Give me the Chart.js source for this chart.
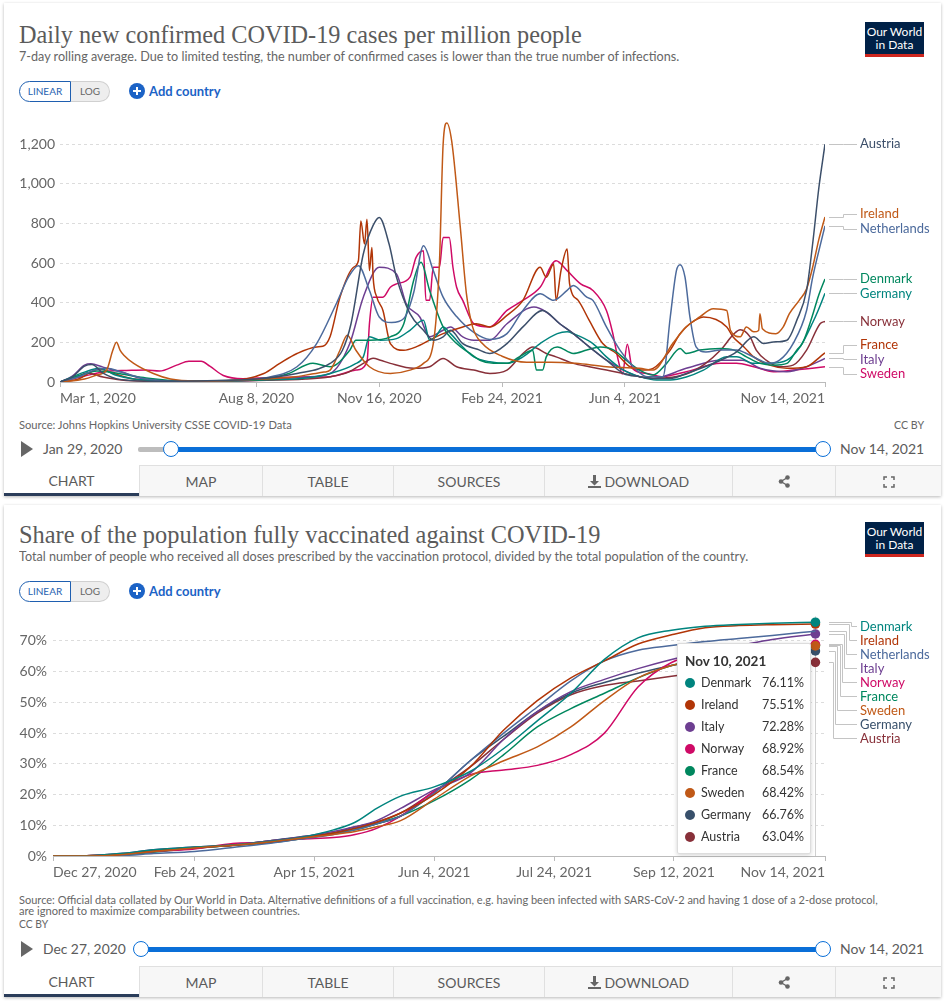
<!DOCTYPE html>
<html>
<head>
<meta charset="utf-8">
<script src="https://cdn.jsdelivr.net/npm/chart.js@4.4.0/dist/chart.umd.min.js"></script>
<style>
  body { margin: 0; background: #fff; font-family: Lato, "Noto Sans", sans-serif; }
  #page { position: relative; width: 946px; height: 1002px; overflow: hidden; }
  .panel { position: absolute; left: 4px; width: 937px; background: #fff; box-shadow: 0 1px 3px rgba(0,0,0,0.28); }
  .t { position: absolute; white-space: nowrap; line-height: 1; transform-origin: 0 50%; }
  .title { font-family: "Liberation Serif", serif; font-size: 25px; color: #5b5b5b; }
  .sub { font-size: 13px; color: #666; }
  .src { font-size: 11px; color: #666; }
  .date { font-size: 14px; color: #5b5b5b; }
  .logo { position: absolute; width: 59px; height: 35px; box-sizing: border-box; background: #002147; color: #fff;
          border-bottom: 3px solid #ce261e; font-size: 12px; line-height: 13px; text-align: center; padding-top: 3px; }
  .toggle { position: absolute; height: 21px; width: 91px; }
  .toggle .lin { position: absolute; left: 0; top: 0; width: 52px; height: 21px; box-sizing: border-box; border: 1.5px solid #1f5fb0;
                 border-radius: 11px 0 0 11px; color: #1f5fb0; font-size: 10px; line-height: 18px; text-align: center; background: #fff; }
  .toggle .log { position: absolute; left: 52px; top: 0; width: 39px; height: 21px; box-sizing: border-box; border: 1px solid #d0d0d0; border-left: none;
                 border-radius: 0 11px 11px 0; color: #666; font-size: 10px; line-height: 19px; text-align: center; background: #eee; }
  .add { position: absolute; height: 18px; color: #1c63c6; font-size: 13px; font-weight: bold; line-height: 18px; }
  .add .plus { position: absolute; left: 0; top: 1px; width: 16px; height: 16px; border-radius: 50%; background: #1c63c6; }
  .add .plus:before { content: ""; position: absolute; left: 4px; top: 7px; width: 8px; height: 2px; background: #fff; }
  .add .plus:after { content: ""; position: absolute; left: 7px; top: 4px; width: 2px; height: 8px; background: #fff; }
  .add span.lbl { position: absolute; left: 20px; top: 0; white-space: nowrap; }
  .play { position: absolute; width: 0; height: 0; border-left: 12px solid #666; border-top: 8px solid transparent; border-bottom: 8px solid transparent; }
  .track { position: absolute; height: 5px; border-radius: 2px; }
  .knob { position: absolute; width: 16px; height: 16px; box-sizing: border-box; border-radius: 50%; border: 1.5px solid #0a6fd8; background: #fff; }
  .tab { position: absolute; height: 31px; box-sizing: border-box; background: #f7f7f7; border-top: 1px solid #e0e0e0; border-left: 1px solid #e0e0e0;
         font-size: 14px; color: #5b5b5b; text-align: center; line-height: 31px; }
  .tab.sel { background: #fff; border-top: none; border-left: none; border-bottom: 3px solid #2b3d5a; line-height: 31px; }
  .tab svg { vertical-align: -1px; }
  .chartbox { position: absolute; left: 0; width: 946px; }
  #tip { position: absolute; left: 677px; top: 643px; width: 134px; height: 211px; box-sizing: border-box; background: #fff;
         border: 1px solid #ddd; box-shadow: 0 1px 4px rgba(0,0,0,0.18); border-radius: 2px; font-size: 12.5px; color: #333; }
  #tip .tt { position: absolute; left: 7px; top: 9px; font-weight: bold; font-size: 13.5px; }
  #tip .tr { position: absolute; left: 0; width: 134px; height: 16px; line-height: 16px; }
  #tip .dot { position: absolute; left: 7px; top: 3px; width: 10px; height: 10px; border-radius: 50%; }
  #tip .nm { position: absolute; left: 23px; }
  #tip .vl { position: absolute; right: 8px; }
</style>
</head>
<body>
<div id="page">
  <div class="panel" style="top:3px;height:493px"></div>
  <div class="panel" style="top:505px;height:492px"></div>

  <!-- panel 1 -->
  <div class="t title" style="left:19px;top:22px" data-w="563">Daily new confirmed COVID-19 cases per million people</div>
  <div class="t sub" style="left:19px;top:50px" data-w="660">7-day rolling average. Due to limited testing, the number of confirmed cases is lower than the true number of infections.</div>
  <div class="logo" style="left:865px;top:22px">Our World<br>in Data</div>
  <div class="toggle" style="left:19px;top:81px"><div class="lin">LINEAR</div><div class="log">LOG</div></div>
  <div class="add" style="left:129px;top:82px"><div class="plus"></div><span class="lbl">Add country</span></div>
  <div class="chartbox" style="top:107px;height:303px"><canvas id="c1"></canvas></div>
  <div class="t src" style="left:19px;top:419px" data-w="273">Source: Johns Hopkins University CSSE COVID-19 Data</div>
  <div class="t src" style="left:894px;top:419px" data-w="30">CC BY</div>
  <div class="play" style="left:21px;top:441px"></div>
  <div class="t date" style="left:43px;top:442px" data-w="79">Jan 29, 2020</div>
  <div class="track" style="left:138px;top:447px;width:36px;background:#bdbdbd"></div>
  <div class="track" style="left:171px;top:447px;width:652px;background:#0a6fd8"></div>
  <div class="knob" style="left:163px;top:441px"></div>
  <div class="knob" style="left:815px;top:441px"></div>
  <div class="t date" style="left:840px;top:442px" data-w="84">Nov 14, 2021</div>
  <div class="tab sel" style="left:4px;top:465px;width:135px">CHART</div>
  <div class="tab" style="left:139px;top:465px;width:123px">MAP</div>
  <div class="tab" style="left:262px;top:465px;width:131px">TABLE</div>
  <div class="tab" style="left:393px;top:465px;width:151px">SOURCES</div>
  <div class="tab" style="left:544px;top:465px;width:188px"><svg width="13" height="13" viewBox="0 0 13 13"><path d="M5 0h3v6h3L6.5 10.5 2 6h3z" fill="#666"/><rect x="0" y="11" width="13" height="2" fill="#666"/></svg> DOWNLOAD</div>
  <div class="tab" style="left:732px;top:465px;width:103px"><svg width="12" height="13" viewBox="0 0 12 13"><circle cx="9.5" cy="2.5" r="2.3" fill="#666"/><circle cx="3" cy="6.5" r="2.3" fill="#666"/><circle cx="9.5" cy="10.5" r="2.3" fill="#666"/><path d="M9.5 2.5L3 6.5l6.5 4" stroke="#666" stroke-width="1.4" fill="none"/></svg></div>
  <div class="tab" style="left:835px;top:465px;width:106px"><svg width="12" height="12" viewBox="0 0 12 12" fill="none" stroke="#666" stroke-width="1.5"><path d="M1 4V1h3M8 1h3v3M11 8v3H8M4 11H1V8"/></svg></div>

  <!-- panel 2 -->
  <div class="t title" style="left:19px;top:522px" data-w="581">Share of the population fully vaccinated against COVID-19</div>
  <div class="t sub" style="left:19px;top:550px" data-w="729">Total number of people who received all doses prescribed by the vaccination protocol, divided by the total population of the country.</div>
  <div class="logo" style="left:865px;top:522px">Our World<br>in Data</div>
  <div class="toggle" style="left:19px;top:581px"><div class="lin">LINEAR</div><div class="log">LOG</div></div>
  <div class="add" style="left:129px;top:582px"><div class="plus"></div><span class="lbl">Add country</span></div>
  <div class="chartbox" style="top:602px;height:280px"><canvas id="c2"></canvas></div>
  <div id="tip"></div>
  <div class="t src" style="left:19px;top:894px" data-w="859">Source: Official data collated by Our World in Data. Alternative definitions of a full vaccination, e.g. having been infected with SARS-CoV-2 and having 1 dose of a 2-dose protocol,</div>
  <div class="t src" style="left:19px;top:905px" data-w="281">are ignored to maximize comparability between countries.</div>
  <div class="t src" style="left:19px;top:918px" data-w="29">CC BY</div>
  <div class="play" style="left:21px;top:941px"></div>
  <div class="t date" style="left:43px;top:942px" data-w="83">Dec 27, 2020</div>
  <div class="track" style="left:141px;top:947px;width:682px;background:#0a6fd8"></div>
  <div class="knob" style="left:133px;top:941px"></div>
  <div class="knob" style="left:815px;top:941px"></div>
  <div class="t date" style="left:840px;top:942px" data-w="84">Nov 14, 2021</div>
  <div class="tab sel" style="left:4px;top:966px;width:135px">CHART</div>
  <div class="tab" style="left:139px;top:966px;width:123px">MAP</div>
  <div class="tab" style="left:262px;top:966px;width:131px">TABLE</div>
  <div class="tab" style="left:393px;top:966px;width:151px">SOURCES</div>
  <div class="tab" style="left:544px;top:966px;width:188px"><svg width="13" height="13" viewBox="0 0 13 13"><path d="M5 0h3v6h3L6.5 10.5 2 6h3z" fill="#666"/><rect x="0" y="11" width="13" height="2" fill="#666"/></svg> DOWNLOAD</div>
  <div class="tab" style="left:732px;top:966px;width:103px"><svg width="12" height="13" viewBox="0 0 12 13"><circle cx="9.5" cy="2.5" r="2.3" fill="#666"/><circle cx="3" cy="6.5" r="2.3" fill="#666"/><circle cx="9.5" cy="10.5" r="2.3" fill="#666"/><path d="M9.5 2.5L3 6.5l6.5 4" stroke="#666" stroke-width="1.4" fill="none"/></svg></div>
  <div class="tab" style="left:835px;top:966px;width:106px"><svg width="12" height="12" viewBox="0 0 12 12" fill="none" stroke="#666" stroke-width="1.5"><path d="M1 4V1h3M8 1h3v3M11 8v3H8M4 11H1V8"/></svg></div>
</div>

<script>
// ---------- chart 1: daily new cases per million (days since Mar 1, 2020) ----------
const tickDays1 = [0, 160, 260, 360, 460, 623];
const tickLabels1 = ["Mar 1, 2020", "Aug 8, 2020", "Nov 16, 2020", "Feb 24, 2021", "Jun 4, 2021", "Nov 14, 2021"];
const yTicks1 = [0, 200, 400, 600, 800, 1000, 1200];

const countries1 = ["Austria", "Ireland", "Netherlands", "Denmark", "Germany", "Norway", "France", "Italy", "Sweden"];
const colors1 = ["#3c4f6a", "#c05917", "#4c6a9c", "#00875e", "#00847e", "#883039", "#b13507", "#6d3e91", "#cf0a66"];

const austriaDays = [0,10,20,26,35,50,80,120,160,193,220,230,237,247,255,260,268,274,285,296,304,312,318,328,340,350,364,377,393,407,418,431,445,459,472,483,497,510,538,551,565,573,581,592,600,608,613,618,623];
const austriaCases = [0,25,80,88,45,12,4,6,15,43,94,160,294,646,790,830,696,529,345,261,211,228,261,194,165,144,194,278,361,294,244,177,110,43,27,18,18,43,110,152,228,194,202,211,311,462,700,980,1200];

const irelandDays = [0,20,30,38,43,46,49,52,60,76,90,110,140,166,190,205,215,220,228,234,241,252,269,285,296,304,309,312,315,319,326,331,336,344,360,380,400,420,445,472,483,499,510,521,532,543,546,554,559,565,569,570,572,583,589,594,602,608,613,618,623];
const irelandCases = [0,15,35,60,160,200,160,135,94,43,15,5,8,15,25,40,50,60,160,236,160,77,43,60,94,194,600,1198,1307,1215,780,445,278,194,130,100,100,94,77,69,60,194,278,328,370,361,261,228,278,253,260,345,269,244,278,345,412,470,580,720,833];

const netherlandsDays = [0,15,28,38,50,70,100,140,166,193,209,225,235,243,252,260,270,280,288,296,304,312,323,337,350,364,377,391,402,413,418,429,434,445,456,467,478,491,497,502,505,509,513,518,526,538,551,559,570,578,586,597,608,613,618,623];
const netherlandsCases = [0,25,60,70,50,15,3,8,20,77,194,395,530,587,462,328,300,320,450,688,562,428,330,250,215,244,361,445,412,462,487,428,412,278,161,77,27,27,328,562,592,529,328,177,152,161,161,144,110,94,110,194,361,529,662,788];

const denmarkDays = [0,20,30,40,55,70,100,160,185,206,220,236,241,252,269,280,288,294,301,312,323,334,342,353,364,374,385,388,393,396,405,418,429,440,451,461,472,483,494,505,510,521,538,549,559,570,581,592,600,605,612,618,623];
const denmarkCases = [0,40,55,50,35,20,5,10,40,94,77,160,211,211,228,294,512,604,462,278,194,144,110,94,94,127,160,60,60,127,177,144,161,177,161,110,60,35,94,169,144,161,169,161,127,94,85,94,161,200,320,440,520];

const germanyDays = [0,20,32,45,60,90,160,200,220,240,247,252,261,274,285,296,301,306,312,318,328,337,350,364,377,391,405,413,418,434,445,459,472,486,497,510,524,543,551,565,578,592,603,613,618,623];
const germanyCases = [0,50,70,35,15,5,10,20,43,90,127,228,211,219,261,311,211,230,278,244,177,127,102,94,127,194,244,253,244,194,127,60,27,10,10,25,60,127,127,94,94,110,180,300,370,448];

const norwayDays = [0,15,22,35,50,80,160,200,220,235,247,255,261,269,288,301,312,323,337,350,364,377,385,396,404,418,431,445,459,472,485,510,525,538,549,554,562,567,575,586,597,608,619,623];
const norwayCases = [0,30,45,25,10,3,8,15,27,50,94,120,110,94,69,77,119,77,60,43,60,144,177,144,127,94,77,60,43,27,18,40,90,161,244,264,228,161,110,77,85,161,294,306];

const franceDays = [0,15,25,32,45,60,90,140,166,179,193,209,214,220,228,239,243,245,248,250,252,254,255,258,263,269,280,290,301,312,328,339,350,364,377,391,396,402,404,408,413,415,422,431,442,453,464,474,483,497,505,513,524,543,548,557,565,578,592,608,619,623];
const franceCases = [0,15,50,65,40,15,5,8,43,94,144,177,180,230,428,579,612,813,696,821,562,679,529,428,361,194,160,177,211,244,278,294,278,336,412,579,529,596,412,562,671,495,412,311,194,144,77,60,69,161,244,294,328,278,228,177,127,85,69,77,127,147];

const italyDays = [0,10,20,25,35,50,65,80,100,140,166,200,220,236,247,260,274,282,293,301,312,318,328,337,350,364,386,396,407,418,431,445,459,472,483,510,538,556,570,592,608,623];
const italyCases = [0,30,85,92,75,50,20,8,4,5,10,25,43,194,428,579,545,395,328,228,261,278,228,211,211,294,378,353,294,244,177,110,60,27,18,69,110,110,69,52,77,119];

const swedenDays = [0,20,40,54,70,81,95,105,115,122,133,149,170,200,220,241,250,252,255,263,269,274,285,290,296,298,301,304,309,312,317,320,323,328,337,350,364,377,391,404,413,424,434,445,450,455,458,462,466,478,490,510,538,551,565,581,597,623];
const swedenCases = [0,30,55,58,60,55,85,105,105,80,33,17,22,25,27,60,100,294,428,428,478,495,529,629,662,412,412,579,579,729,729,579,478,412,294,278,361,412,478,612,562,495,462,361,250,100,40,190,70,43,27,52,94,94,77,52,60,77];

const days1 = [austriaDays, irelandDays, netherlandsDays, denmarkDays, germanyDays, norwayDays, franceDays, italyDays, swedenDays];
const cases1 = [austriaCases, irelandCases, netherlandsCases, denmarkCases, germanyCases, norwayCases, franceCases, italyCases, swedenCases];

// ---------- chart 2: share fully vaccinated, % (days since Dec 27, 2020) ----------
const tickDays2 = [0, 59, 109, 159, 209, 259, 322];
const tickLabels2 = ["Dec 27, 2020", "Feb 24, 2021", "Apr 15, 2021", "Jun 4, 2021", "Jul 24, 2021", "Sep 12, 2021", "Nov 14, 2021"];
const yTicks2 = [0, 10, 20, 30, 40, 50, 60, 70];

const days2 = [0,14,28,42,59,75,89,103,117,126,135,145,159,174,188,202,216,230,244,258,272,286,300,318];
const countries2 = ["Denmark", "Ireland", "Netherlands", "Italy", "Norway", "France", "Sweden", "Germany", "Austria"];
const colors2 = ["#00847e", "#b13507", "#4c6a9c", "#6d3e91", "#cf0a66", "#00875e", "#c05917", "#38506b", "#883039"];

const denmarkVax = [0,0.1,0.8,2.0,2.9,3.6,4.6,6.0,8.5,11.0,15.5,19.5,22.5,27.5,35,44,53,64,71,73.5,74.8,75.4,75.8,76.11];
const irelandVax = [0,0.1,0.5,1.8,2.8,3.4,4.5,5.8,7.5,9.0,11.0,14.0,20.0,29.0,41,50.6,58,63.5,69,72,74.3,75,75.3,75.51];
const netherlandsVax = [0,0,0.1,0.8,1.5,2.8,4.0,5.5,7.0,8.5,10.5,13.0,20.5,31.0,40,48.5,57,63.5,67,68.5,69.8,70.8,71.8,73.2];
const italyVax = [0,0.1,0.8,2.0,2.9,3.6,4.8,6.2,8.0,9.5,11.5,15.5,21.5,27.0,38,47,53.5,57.5,61,64,66.5,68.5,70.5,72.28];
const norwayVax = [0,0.1,0.6,1.5,2.3,4.1,4.5,5.5,6.0,7.0,9.0,13.0,21.0,26.5,28,29.5,33,40,55,63,66,67.5,68.3,68.92];
const franceVax = [0,0,0.3,1.2,2.5,3.5,4.2,5.5,7.2,8.5,10.5,13.0,18.0,24.8,33,42,48,53,58,62,64.5,66,67.3,68.54];
const swedenVax = [0,0,0.4,1.5,2.6,3.5,4.5,5.8,7.0,8.0,9.5,11.5,18.5,26.0,31,35.5,42,50.6,58,62,64.5,66.3,67.5,68.42];
const germanyVax = [0,0.1,0.5,1.5,2.6,3.5,4.8,6.2,7.5,9.0,10.5,13.0,20.5,31.0,39,47,53,56.5,59.5,62,64,65.2,66,66.76];
const austriaVax = [0,0.1,0.6,1.8,2.7,3.5,4.8,6.0,7.5,9.5,11.0,14.0,21.0,29.0,38,46.5,52.5,55.5,57,58.5,60,61.3,62.2,63.04];

const vax2 = [denmarkVax, irelandVax, netherlandsVax, italyVax, norwayVax, franceVax, swedenVax, germanyVax, austriaVax];

// tooltip at the hovered date
const tooltipDate = "Nov 10, 2021";
const tooltipDay = 318;
const tooltipCountries = ["Denmark", "Ireland", "Italy", "Norway", "France", "Sweden", "Germany", "Austria"];


// labels at the right end of each line, pushed apart when they overlap
const endLabels = {
  id: "endLabels",
  afterDatasetsDraw(chart, args, o) {
    const ctx = chart.ctx;
    const area = chart.chartArea;
    const items = chart.data.datasets.map((ds, i) => {
      const pts = chart.getDatasetMeta(i).data;
      const p = pts[pts.length - 1];
      return { name: ds.label, color: ds.borderColor, y: p.y, ly: p.y };
    }).sort((a, b) => a.y - b.y);

    for (let k = 0; k < 400; k++) {
      let moved = false;
      for (let i = 1; i < items.length; i++) {
        const d = items[i].ly - items[i - 1].ly;
        if (d < o.gap - 0.01) {
          const s = (o.gap - d) / 2;
          items[i].ly += s;
          items[i - 1].ly -= s;
          moved = true;
        }
      }
      if (!moved) break;
    }
    if (items[0].ly < area.top + o.minTop) items[0].ly = area.top + o.minTop;
    for (let i = 1; i < items.length; i++) {
      items[i].ly = Math.max(items[i].ly, items[i - 1].ly + o.gap);
    }

    ctx.save();
    ctx.font = "13px Lato";
    ctx.textBaseline = "middle";
    items.forEach((it, i) => {
      const x0 = area.right + 4;
      const jx = Math.round(o.jogBase - i * o.jogStep) + 0.5;
      const y0 = Math.round(it.y) + 0.5;
      const y1 = Math.round(it.ly) + 0.5;
      ctx.strokeStyle = "#c4c4c4";
      ctx.lineWidth = 1;
      ctx.beginPath();
      ctx.moveTo(x0, y0);
      ctx.lineTo(jx, y0);
      ctx.lineTo(jx, y1);
      ctx.lineTo(o.textX - 3, y1);
      ctx.stroke();
      ctx.fillStyle = it.color;
      ctx.fillText(it.name, o.textX, it.ly);
    });
    ctx.restore();
  }
};

// thin vertical line at the hovered date
const hoverLine = {
  id: "hoverLine",
  beforeDatasetsDraw(chart, args, o) {
    const x = Math.round(chart.scales.x.getPixelForValue(o.day)) + 0.5;
    const ctx = chart.ctx;
    ctx.save();
    ctx.strokeStyle = "#d0d0d0";
    ctx.lineWidth = 1;
    ctx.beginPath();
    ctx.moveTo(x, chart.chartArea.top);
    ctx.lineTo(x, chart.chartArea.bottom);
    ctx.stroke();
    ctx.restore();
  }
};

const tickFont = { family: "Lato", size: 14 };

function xAxis(tickDays, tickLabels, max, height) {
  return {
    type: "linear", min: 0, max: max,
    afterBuildTicks: s => { s.ticks = tickDays.map(v => ({ value: v })); },
    afterFit: s => { s.height = height; },
    ticks: { autoSkip: false, maxRotation: 0, align: "inner", padding: 3, color: "#666", font: tickFont,
             callback: v => tickLabels[tickDays.indexOf(v)] },
    grid: { drawOnChartArea: false, drawTicks: true, tickLength: 5, color: "#bbb" },
    border: { display: true, color: "#bbb" }
  };
}

function yAxis(ticks, max, width, pad, fmt) {
  return {
    min: 0, max: max,
    afterBuildTicks: s => { s.ticks = ticks.map(v => ({ value: v })); },
    afterFit: s => { s.width = width; },
    ticks: { padding: pad, color: "#666", font: tickFont, callback: fmt },
    grid: { color: "#dcdcdc", drawTicks: false },
    border: { display: false, dash: [3, 3] }
  };
}


// chart 1
new Chart(document.getElementById("c1"), {
  type: "line",
  data: {
    datasets: countries1.map((name, i) => ({
      label: name,
      data: days1[i].map((d, j) => ({ x: d, y: cases1[i][j] })),
      borderColor: colors1[i],
      borderWidth: 1.5,
      pointRadius: 0,
      cubicInterpolationMode: "monotone"
    }))
  },
  options: {
    responsive: true, maintainAspectRatio: false, animation: false,
    layout: { padding: { top: 6, right: 121, left: 0, bottom: 0 } },
    plugins: {
      legend: { display: false }, tooltip: { enabled: false },
      endLabels: { gap: 14.5, minTop: 11, jogBase: 843, jogStep: 0, textX: 860 }
    },
    scales: {
      x: xAxis(tickDays1, tickLabels1, 623, 28),
      y: yAxis(yTicks1, 1320, 60, 5, v => v.toLocaleString("en-US"))
    }
  },
  plugins: [endLabels]
});


// chart 2
new Chart(document.getElementById("c2"), {
  type: "line",
  data: {
    datasets: countries2.map((name, i) => ({
      label: name,
      data: days2.map((d, j) => ({ x: d, y: vax2[i][j] })),
      borderColor: colors2[i],
      backgroundColor: colors2[i],
      borderWidth: 1.5,
      order: name === "Sweden" ? -1 : 0,
      pointRadius: c => (c.dataIndex === days2.length - 1 && tooltipCountries.includes(name)) ? 4.8 : 0,
      pointBorderWidth: 0,
      cubicInterpolationMode: "monotone"
    }))
  },
  options: {
    responsive: true, maintainAspectRatio: false, animation: false,
    layout: { padding: { top: 7, right: 121, left: 0, bottom: 0 } },
    plugins: {
      legend: { display: false }, tooltip: { enabled: false },
      hoverLine: { day: tooltipDay },
      endLabels: { gap: 14, minTop: 10, jogBase: 851, jogStep: 2.3, textX: 860 }
    },
    scales: {
      x: xAxis(tickDays2, tickLabels2, 322, 26),
      y: yAxis(yTicks2, 78, 53, 6, v => v + "%")
    }
  },
  plugins: [hoverLine, endLabels]
});


// tooltip box built from the last values
const rows = tooltipCountries.map(name => {
  const i = countries2.indexOf(name);
  return { name: name, color: colors2[i], v: vax2[i][days2.indexOf(tooltipDay)] };
}).sort((a, b) => b.v - a.v);

let html = '<div class="tt">' + tooltipDate + '</div>';
rows.forEach((r, k) => {
  html += '<div class="tr" style="top:' + (31 + k * 22) + 'px"><span class="dot" style="background:' + r.color +
          '"></span><span class="nm">' + r.name + '</span><span class="vl">' + r.v.toFixed(2) + '%</span></div>';
});
document.getElementById("tip").innerHTML = html;


// squeeze or stretch texts to the widths of the reference
function fitTexts() {
  document.querySelectorAll("[data-w]").forEach(el => {
    el.style.transform = "none";
    const w = el.offsetWidth;
    if (w > 0) el.style.transform = "scaleX(" + (+el.dataset.w / w) + ")";
  });
}
fitTexts();
document.fonts.ready.then(fitTexts);
</script>
</body>
</html>
